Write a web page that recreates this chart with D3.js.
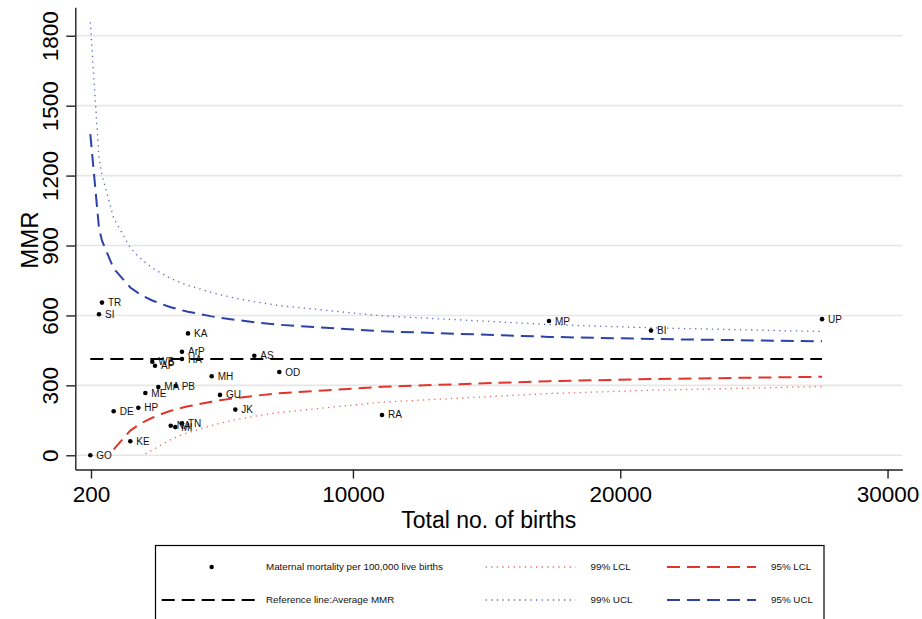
<!DOCTYPE html>
<html><head><meta charset="utf-8">
<script src="https://cdn.jsdelivr.net/npm/d3@7"></script>
<style>
body{margin:0;background:#fff}
svg{display:block;font-family:"Liberation Sans",Arial,Helvetica,sans-serif}
</style>
</head><body>
<svg id="c" width="922" height="619"></svg>
<script>
// ---- data ----
const states = ["GO","SI","TR","DE","KE","HP","ME","WB","AP","MA","NA","MI","PB","ArP","HA","TN","KA","MH","GU","JK","AS","OD","RA","MP","BI","UP"];
const births = [175,499,611,1048,1670,1971,2233,2493,2594,2719,3182,3354,3368,3604,3604,3604,3829,4715,5026,5600,6310,7245,11087,17334,21150,27550];
const mmr    = [0,605,655,189,60,204,267,401,384,293,127,121,297,444,413,137,523,339,259,196,427,357,173,576,535,584];

const avgMMR = 413;

const curveBirths = [175,499,611,1048,1670,1971,2233,2493,2594,2719,3182,3354,3368,3604,3829,4715,5026,5600,6310,7245,11087,17334,21150,27550];
const ucl95 = [1378,975,921,801,720,696,679,664,660,654,635,630,629,622,616,596,590,581,571,560,532,508,499,489];
const ucl99 = [1858,1275,1203,1017,891,853,827,804,797,788,759,750,750,738,729,698,689,674,659,642,598,561,547,531];
const lcl95 = [null,null,null,25,106,130,147,161,166,172,191,196,197,204,210,230,236,245,255,266,294,318,327,337];
const lcl99 = [null,null,null,null,null,null,6,22,29,38,67,76,76,88,97,128,137,152,167,184,228,265,279,295];

const xTicks = [200,10000,20000,30000];
const yTicks = [0,300,600,900,1200,1500,1800];

const legendItems = [
  {label:"Maternal mortality per 100,000 live births", kind:"dot"},
  {label:"Reference line:Average MMR", kind:"ref"},
  {label:"99% LCL", kind:"lcl99"},
  {label:"99% UCL", kind:"ucl99"},
  {label:"95% LCL", kind:"lcl95"},
  {label:"95% UCL", kind:"ucl95"}
];

// ---- styles ----
const styles = {
  ref:   {stroke:"#000000", width:2,   dash:"13,7"},
  ucl95: {stroke:"#2b43a6", width:2,   dash:"13,7"},
  lcl95: {stroke:"#e2342b", width:2,   dash:"13,7"},
  ucl99: {stroke:"#5c68c6", width:1.3, dash:"1.3,4.3"},
  lcl99: {stroke:"#ec6a62", width:1.3, dash:"1.3,4.3"}
};

const svg = d3.select("#c");
const x = d3.scaleLinear().domain([-387, 30552]).range([75.3, 902.3]);
const y = d3.scaleLinear().domain([-61, 1922]).range([469.5, 7.3]);

// gridlines
svg.append("g").selectAll("line").data(yTicks).join("line")
  .attr("x1", 75.3).attr("x2", 902.3)
  .attr("y1", d => y(d)).attr("y2", d => y(d))
  .attr("stroke", "#e6e6e6").attr("stroke-width", 1.6);

// curves
function drawCurve(vals, st) {
  const data = curveBirths.map((b, i) => ({b, v: vals[i]}));
  const line = d3.line().defined(d => d.v != null).x(d => x(d.b)).y(d => y(d.v));
  svg.append("path").datum(data).attr("d", line)
    .attr("fill", "none").attr("stroke", st.stroke)
    .attr("stroke-width", st.width).attr("stroke-dasharray", st.dash);
}
drawCurve(ucl99, styles.ucl99);
drawCurve(lcl99, styles.lcl99);
drawCurve(ucl95, styles.ucl95);
drawCurve(lcl95, styles.lcl95);

// reference line
svg.append("line")
  .attr("x1", x(curveBirths[0])).attr("x2", x(curveBirths[curveBirths.length-1]))
  .attr("y1", y(avgMMR)).attr("y2", y(avgMMR))
  .attr("stroke", styles.ref.stroke).attr("stroke-width", styles.ref.width)
  .attr("stroke-dasharray", styles.ref.dash);

// points
const pts = states.map((s, i) => ({s, b: births[i], m: mmr[i]}));
svg.append("g").selectAll("circle").data(pts).join("circle")
  .attr("cx", d => x(d.b)).attr("cy", d => y(d.m)).attr("r", 2.3).attr("fill", "#000");
svg.append("g").selectAll("text").data(pts).join("text")
  .attr("x", d => x(d.b) + 6).attr("y", d => y(d.m)).attr("dy", "0.35em")
  .attr("font-size", 10).attr("fill", "#111").text(d => d.s);

// axes
const xAxis = svg.append("g").attr("transform", "translate(0,469.5)")
  .call(d3.axisBottom(x).tickValues(xTicks).tickSize(9).tickSizeOuter(0).tickPadding(8).tickFormat(d3.format("d")));
xAxis.selectAll("text").attr("font-size", 22.5).attr("fill", "#000").attr("font-family", '"Liberation Sans",Arial,sans-serif');
xAxis.selectAll("line,path").attr("stroke", "#222").attr("stroke-width", 1.4);

const yAxis = svg.append("g").attr("transform", "translate(75.3,0)")
  .call(d3.axisLeft(y).tickValues(yTicks).tickSize(9).tickSizeOuter(0).tickFormat(d3.format("d")));
yAxis.selectAll("line,path").attr("stroke", "#222").attr("stroke-width", 1.4);
yAxis.selectAll("text")
  .attr("x", null).attr("dy", null).attr("y", 0)
  .attr("transform", "translate(-17.8,0) rotate(-90)")
  .attr("text-anchor", "middle").attr("font-size", 22.5).attr("fill", "#000")
  .attr("font-family", '"Liberation Sans",Arial,sans-serif');

// axis titles
svg.append("text").attr("x", 488.8).attr("y", 528).attr("text-anchor", "middle")
  .attr("font-size", 23).text("Total no. of births");
svg.append("text").attr("transform", "translate(38,240) rotate(-90)").attr("text-anchor", "middle")
  .attr("font-size", 24).text("MMR");

// legend
const lg = svg.append("g");
lg.append("rect").attr("x", 155.5).attr("y", 545.5).attr("width", 668.5).attr("height", 100)
  .attr("fill", "#fff").attr("stroke", "#000").attr("stroke-width", 1.2);
const rowY = [567, 600];
const pos = {
  dot:   {row:0, x1:161.7, x2:256, tx:266},
  ref:   {row:1, x1:161.7, x2:256, tx:266},
  lcl99: {row:0, x1:485.6, x2:575.5, tx:590.5},
  ucl99: {row:1, x1:485.6, x2:575.5, tx:590.5},
  lcl95: {row:0, x1:667, x2:756, tx:771},
  ucl95: {row:1, x1:667, x2:756, tx:771}
};
legendItems.forEach(it => {
  const p = pos[it.kind];
  const yy = rowY[p.row];
  if (it.kind === "dot") {
    lg.append("circle").attr("cx", (p.x1 + p.x2) / 2 + 2.8).attr("cy", yy).attr("r", 2.2).attr("fill", "#000");
  } else {
    const st = styles[it.kind];
    lg.append("line").attr("x1", p.x1).attr("x2", p.x2).attr("y1", yy).attr("y2", yy)
      .attr("stroke", st.stroke).attr("stroke-width", st.width).attr("stroke-dasharray", st.dash);
  }
  lg.append("text").attr("x", p.tx).attr("y", yy).attr("dy", "0.35em")
    .attr("font-size", 9.8).attr("fill", "#111").text(it.label);
});
</script>
</body></html>
